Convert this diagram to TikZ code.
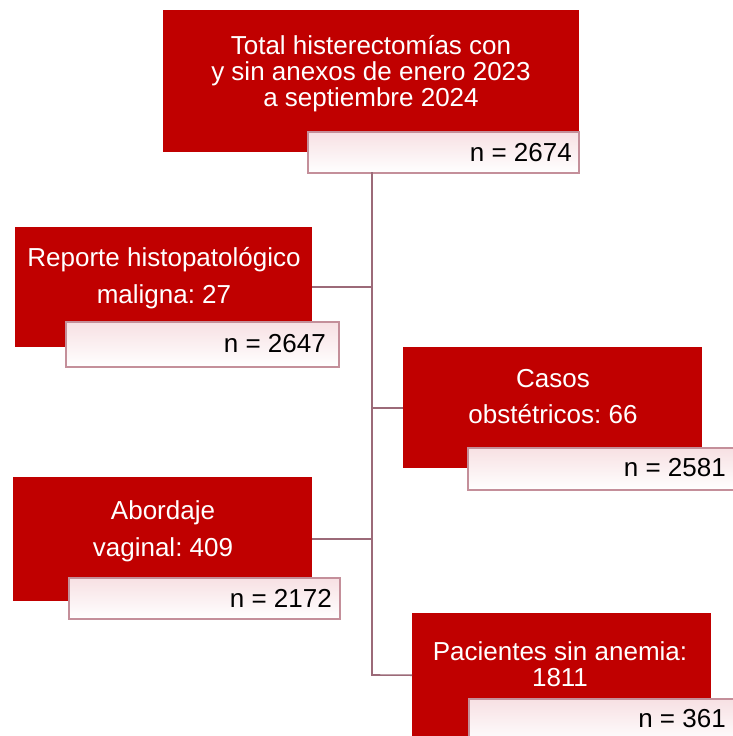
\documentclass[tikz,border=0pt]{standalone}
\usepackage{fontspec}
\setmainfont{Liberation Sans}
\definecolor{boxred}{HTML}{C00000}
\definecolor{linkcol}{HTML}{9C6A78}
\definecolor{nborder}{HTML}{C48F9A}
\definecolor{npink}{HTML}{F7E0E3}
\begin{document}
\frenchspacing
\begin{tikzpicture}[x=1pt,y=-1pt,
  redbox/.style={fill=boxred, draw=none, inner sep=0pt, anchor=north west},
  nbox/.style={draw=nborder, line width=1.5pt, top color=npink, bottom color=white, inner sep=0pt, anchor=north west},
  wtxt/.style={text=white, anchor=base, font=\fontsize{26}{28}\selectfont, inner sep=0pt},
  ntxt/.style={text=black, anchor=base east, font=\fontsize{26}{28}\selectfont, inner sep=0pt},
  link/.style={draw=linkcol, line width=1.6pt, line join=miter}]
\useasboundingbox (0,0) rectangle (733,736);
\clip (0,0) rectangle (733,736);
\fill[white] (0,0) rectangle (733,736);
% trunk
\coordinate (ttop) at (372,172);
\coordinate (tbot) at (372,675);
% boxes
\node[redbox, minimum width=416pt, minimum height=142pt] (b1) at (163,10) {};
\node[nbox, minimum width=271pt, minimum height=41pt] (n1) at (307,131) {};
\node[redbox, minimum width=297pt, minimum height=120pt] (b2) at (15,227) {};
\node[nbox, minimum width=273pt, minimum height=45pt] (n2) at (65,321) {};
\node[redbox, minimum width=299pt, minimum height=121pt] (b3) at (403,347) {};
\node[nbox, minimum width=272pt, minimum height=42pt] (n3) at (467,447) {};
\node[redbox, minimum width=299pt, minimum height=124pt] (b4) at (13,477) {};
\node[nbox, minimum width=271pt, minimum height=41pt] (n4) at (68,577) {};
\node[redbox, minimum width=299pt, minimum height=124pt] (b5) at (412,613) {};
\node[nbox, minimum width=272pt, minimum height=45pt] (n5) at (468,698) {};
% connectors
\draw[link] (ttop) -- (tbot) -- (b5.west);
\draw[link] (ttop |- b2.east) -- (b2.east);
\draw[link] (ttop |- b3.west) -- (b3.west);
\draw[link] (ttop |- b4.east) -- (b4.east);
% texts
\node[wtxt] (t1a) at (371,54) {Total histerectomías con};
\node[wtxt] (t1b) at (371,80) {y sin anexos de enero 2023};
\node[wtxt] (t1c) at (371,106) {a septiembre 2024};
\node[ntxt] (m1) at (572,161) {n = 2674};
\node[wtxt] (t2a) at (164,266) {Reporte histopatológico};
\node[wtxt] (t2b) at (164,303) {maligna: 27};
\node[ntxt] (m2) at (326,352) {n = 2647};
\node[wtxt] (t3a) at (553,387) {Casos};
\node[wtxt] (t3b) at (553,423) {obstétricos: 66};
\node[ntxt] (m3) at (726,476) {n = 2581};
\node[wtxt] (t4a) at (163,519) {Abordaje};
\node[wtxt] (t4b) at (163,556) {vaginal: 409};
\node[ntxt] (m4) at (332,607) {n = 2172};
\node[wtxt] (t5a) at (560,660) {Pacientes sin anemia:};
\node[wtxt] (t5b) at (560,686) {1811};
\node[ntxt] (m5) at (726,727) {n = 361};
\end{tikzpicture}
\end{document}
